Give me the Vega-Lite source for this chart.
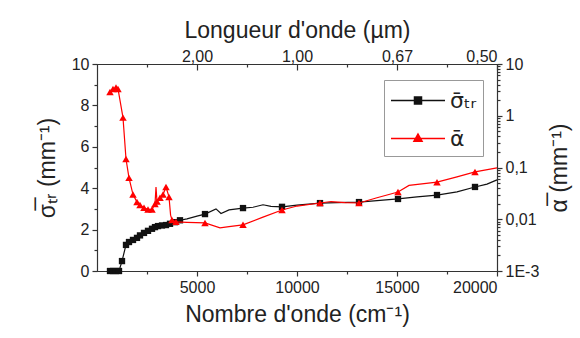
{
  "$schema": "https://vega.github.io/schema/vega-lite/v6.json",
  "width": 400,
  "height": 207,
  "autosize": {"type": "none"},
  "padding": {"left": 97, "top": 64, "right": 83, "bottom": 67},
  "background": "white",
  "config": {
    "font": "Liberation Sans",
    "view": {"stroke": "#333"},
    "axis": {
      "grid": false,
      "domainColor": "#333",
      "tickColor": "#333",
      "labelColor": "#222",
      "titleColor": "#222",
      "labelFont": "Liberation Sans",
      "titleFont": "Liberation Sans",
      "labelFontSize": 16,
      "titleFontSize": 23,
      "titleFontWeight": "normal",
      "domainWidth": 1.2,
      "tickWidth": 1.2
    }
  },
  "datasets": {
    "sig": [
      {"wn": 650, "v": 0, "m": 1}, {"wn": 800, "v": 0, "m": 1}, {"wn": 950, "v": 0, "m": 1}, {"wn": 1100, "v": 0, "m": 1},
      {"wn": 1250, "v": 0.48, "m": 1}, {"wn": 1450, "v": 1.26, "m": 1}, {"wn": 1600, "v": 1.4, "m": 1}, {"wn": 1800, "v": 1.5, "m": 1},
      {"wn": 2000, "v": 1.6, "m": 1}, {"wn": 2150, "v": 1.72, "m": 1}, {"wn": 2350, "v": 1.84, "m": 1}, {"wn": 2550, "v": 1.94, "m": 1},
      {"wn": 2750, "v": 2.04, "m": 1}, {"wn": 2900, "v": 2.12, "m": 1}, {"wn": 3050, "v": 2.17, "m": 1}, {"wn": 3250, "v": 2.2, "m": 1},
      {"wn": 3450, "v": 2.22, "m": 1}, {"wn": 3650, "v": 2.28, "m": 1}, {"wn": 3900, "v": 2.36, "m": 1}, {"wn": 4150, "v": 2.45, "m": 1},
      {"wn": 4500, "v": 2.52, "m": 0}, {"wn": 5000, "v": 2.65, "m": 0}, {"wn": 5400, "v": 2.75, "m": 1}, {"wn": 5950, "v": 3.0, "m": 0},
      {"wn": 6200, "v": 2.78, "m": 0}, {"wn": 6600, "v": 2.95, "m": 0}, {"wn": 7300, "v": 3.04, "m": 1}, {"wn": 7800, "v": 3.08, "m": 0},
      {"wn": 8300, "v": 3.2, "m": 0}, {"wn": 8700, "v": 3.12, "m": 0}, {"wn": 9250, "v": 3.1, "m": 1}, {"wn": 10000, "v": 3.18, "m": 0},
      {"wn": 11150, "v": 3.28, "m": 1}, {"wn": 12000, "v": 3.3, "m": 0}, {"wn": 13100, "v": 3.33, "m": 1}, {"wn": 14000, "v": 3.4, "m": 0},
      {"wn": 15050, "v": 3.48, "m": 1}, {"wn": 16000, "v": 3.58, "m": 0}, {"wn": 17000, "v": 3.67, "m": 1}, {"wn": 18000, "v": 3.82, "m": 0},
      {"wn": 18900, "v": 4.06, "m": 1}, {"wn": 19500, "v": 4.2, "m": 0}, {"wn": 20000, "v": 4.4, "m": 0}
    ],
    "alp": [
      {"wn": 650, "v": 2.88, "m": 1}, {"wn": 800, "v": 3.3, "m": 1}, {"wn": 950, "v": 3.5, "m": 1}, {"wn": 1050, "v": 3.3, "m": 1},
      {"wn": 1300, "v": 0.92, "m": 1}, {"wn": 1450, "v": 0.146, "m": 1}, {"wn": 1600, "v": 0.063, "m": 1}, {"wn": 1800, "v": 0.03, "m": 1},
      {"wn": 2000, "v": 0.0215, "m": 1}, {"wn": 2150, "v": 0.0188, "m": 1}, {"wn": 2350, "v": 0.0166, "m": 1}, {"wn": 2550, "v": 0.0155, "m": 1},
      {"wn": 2750, "v": 0.0155, "m": 1}, {"wn": 2900, "v": 0.0197, "m": 1}, {"wn": 2950, "v": 0.042, "m": 0}, {"wn": 3000, "v": 0.022, "m": 1},
      {"wn": 3150, "v": 0.026, "m": 1}, {"wn": 3300, "v": 0.03, "m": 1}, {"wn": 3450, "v": 0.042, "m": 1}, {"wn": 3600, "v": 0.027, "m": 1},
      {"wn": 3680, "v": 0.012, "m": 0}, {"wn": 3750, "v": 0.0097, "m": 1}, {"wn": 3950, "v": 0.0089, "m": 1}, {"wn": 4500, "v": 0.0087, "m": 0},
      {"wn": 5400, "v": 0.0085, "m": 1}, {"wn": 6150, "v": 0.0068, "m": 0}, {"wn": 6600, "v": 0.0072, "m": 0}, {"wn": 7300, "v": 0.0078, "m": 1},
      {"wn": 8300, "v": 0.011, "m": 0}, {"wn": 9250, "v": 0.0151, "m": 1}, {"wn": 10000, "v": 0.018, "m": 0}, {"wn": 11150, "v": 0.0206, "m": 1},
      {"wn": 11700, "v": 0.022, "m": 0}, {"wn": 12400, "v": 0.021, "m": 0}, {"wn": 13100, "v": 0.0206, "m": 1}, {"wn": 14000, "v": 0.026, "m": 0},
      {"wn": 15050, "v": 0.0336, "m": 1}, {"wn": 15600, "v": 0.045, "m": 0}, {"wn": 17000, "v": 0.052, "m": 1}, {"wn": 18000, "v": 0.066, "m": 0},
      {"wn": 18900, "v": 0.082, "m": 1}, {"wn": 20000, "v": 0.098, "m": 0}
    ]
  },
  "layer": [
    {
      "data": {"name": "sig"},
      "encoding": {
        "x": {
          "field": "wn", "type": "quantitative",
          "scale": {"domain": [0, 20000], "nice": false, "zero": false},
          "axis": {
            "orient": "bottom",
            "title": "Nombre d'onde (cm⁻¹)",
            "values": [2500, 5000, 7500, 10000, 12500, 15000, 17500, 20000],
            "format": "d",
            "labelExpr": "datum.value % 5000 === 0 ? datum.label : ''",
            "tickSize": {"condition": {"test": "datum.value % 5000 !== 0", "value": 3}, "value": 5},
            "labelPadding": 3,
            "titlePadding": 8
          }
        },
        "y": {
          "field": "v", "type": "quantitative",
          "scale": {"domain": [0, 10], "nice": false},
          "axis": {
            "orient": "left",
            "title": "σ̅ₜᵣ (mm⁻¹)",
            "values": [0, 1, 2, 3, 4, 5, 6, 7, 8, 9, 10],
            "labelExpr": "datum.value % 2 === 0 ? datum.label : ''",
            "tickSize": {"condition": {"test": "datum.value % 2 !== 0", "value": 3}, "value": 5},
            "labelPadding": 3,
            "titlePadding": 12
          }
        }
      },
      "layer": [
        {"mark": {"type": "line", "color": "#111", "strokeWidth": 1.2}},
        {"transform": [{"filter": "datum.m == 1"}], "mark": {"type": "point", "shape": "square", "filled": true, "color": "#111", "size": 40, "opacity": 1}}
      ]
    },
    {
      "data": {"name": "alp"},
      "encoding": {
        "x": {
          "field": "wn", "type": "quantitative",
          "axis": {
            "orient": "top",
            "title": "Longueur d'onde (µm)",
            "values": [2500, 5000, 7500, 10000, 12500, 15000, 17500, 20000],
            "labelExpr": "datum.value % 5000 === 0 ? replace(format(10000 / datum.value, '.2f'), '.', ',') : ''",
            "tickSize": {"condition": {"test": "datum.value % 5000 !== 0", "value": -3}, "value": -6},
            "labelPadding": 6,
            "titlePadding": 6
          }
        },
        "y": {
          "field": "v", "type": "quantitative",
          "scale": {"type": "log", "domain": [0.001, 10], "nice": false},
          "axis": {
            "orient": "right",
            "title": "α̅ (mm⁻¹)",
            "titleAngle": 270,
            "titleBaseline": "top",
            "values": [0.001, 0.002, 0.003, 0.004, 0.005, 0.006, 0.007, 0.008, 0.009, 0.01, 0.02, 0.03, 0.04, 0.05, 0.06, 0.07, 0.08, 0.09, 0.1, 0.2, 0.3, 0.4, 0.5, 0.6, 0.7, 0.8, 0.9, 1, 2, 3, 4, 5, 6, 7, 8, 9, 10],
            "labelExpr": "datum.value == 10 ? '10' : datum.value == 1 ? '1' : datum.value == 0.1 ? '0,1' : datum.value == 0.01 ? '0,01' : datum.value == 0.001 ? '1E-3' : ''",
            "tickSize": {"condition": {"test": "indexof([0.001, 0.01, 0.1, 1, 10], datum.value) < 0", "value": 3}, "value": 5},
            "labelPadding": 3,
            "titlePadding": 10
          }
        }
      },
      "layer": [
        {"mark": {"type": "line", "color": "#ff0000", "strokeWidth": 1.2}},
        {"transform": [{"filter": "datum.m == 1"}], "mark": {"type": "point", "shape": "triangle-up", "filled": true, "color": "#ff0000", "size": 56, "opacity": 1}}
      ]
    },
    {
      "data": {"values": [{"s": "σ̄ₜᵣ"}, {"s": "ᾱ"}]},
      "transform": [{"filter": "false"}],
      "mark": {"type": "point", "filled": true, "strokeWidth": 1.5, "opacity": 1},
      "encoding": {
        "fill": {
          "field": "s", "type": "nominal",
          "scale": {"domain": ["σ̄ₜᵣ", "ᾱ"], "range": ["#111", "#ff0000"]},
          "legend": {"title": null, "orient": "none", "legendX": 287, "legendY": 16, "strokeColor": "#999", "fillColor": "white", "padding": 6, "labelFontSize": 22, "labelFont": "DejaVu Sans", "labelColor": "#222", "symbolSize": 729, "symbolStrokeWidth": 1.5, "labelOffset": 31, "rowPadding": 12}
        },
        "stroke": {
          "field": "s", "type": "nominal",
          "scale": {"domain": ["σ̄ₜᵣ", "ᾱ"], "range": ["#111", "#ff0000"]},
          "legend": {"title": null, "orient": "none", "legendX": 287, "legendY": 16, "strokeColor": "#999", "fillColor": "white", "padding": 6, "labelFontSize": 22, "labelFont": "DejaVu Sans", "labelColor": "#222", "symbolSize": 729, "symbolStrokeWidth": 1.5, "labelOffset": 31, "rowPadding": 12}
        },
        "shape": {
          "field": "s", "type": "nominal",
          "scale": {"domain": ["σ̄ₜᵣ", "ᾱ"], "range": ["M-1,0H3M0.74,-0.26H1.26V0.26H0.74Z", "M-1,0H3M1,-0.33L1.3,0.2H0.7Z"]},
          "legend": {"title": null, "orient": "none", "legendX": 287, "legendY": 16, "strokeColor": "#999", "fillColor": "white", "padding": 6, "labelFontSize": 22, "labelFont": "DejaVu Sans", "labelColor": "#222", "symbolSize": 729, "symbolStrokeWidth": 1.5, "labelOffset": 31, "rowPadding": 12}
        }
      }
    }
  ],
  "resolve": {"scale": {"y": "independent"}, "axis": {"x": "independent"}}
}
